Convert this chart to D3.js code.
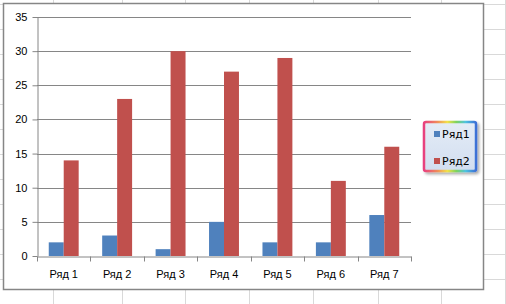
<!DOCTYPE html>
<html>
<head>
<meta charset="utf-8">
<script src="https://cdn.jsdelivr.net/npm/d3@7"></script>
<style>
  html, body { margin: 0; padding: 0; background: #fff; }
  svg { display: block; font-family: "DejaVu Sans", sans-serif; }
</style>
</head>
<body>
<div id="chart"></div>
<script>
// ---- data ----
const categories = ["Ряд 1", "Ряд 2", "Ряд 3", "Ряд 4", "Ряд 5", "Ряд 6", "Ряд 7"];
const seriesNames = ["Ряд1", "Ряд2"];
const series1 = [2, 3, 1, 5, 2, 2, 6];
const series2 = [14, 23, 30, 27, 29, 11, 16];
const yTicks = [0, 5, 10, 15, 20, 25, 30, 35];
const colors = ["#4f81bd", "#c0504d"];

// spreadsheet cell grid behind the chart
const sheetCols = [53, 122, 185, 249, 313, 378, 441, 505];
const sheetRows = [4, 29, 54, 79, 104, 129, 154, 179, 204, 229, 254, 279];

const W = 506, H = 304;
const svg = d3.select("#chart").append("svg")
    .attr("width", W).attr("height", H);

/* sheet grid */
const sheet = svg.append("g").attr("stroke", "#d9d9d9").attr("stroke-width", 1);
sheet.selectAll("line.c").data(sheetCols).join("line")
    .attr("x1", d => d + 0.5).attr("x2", d => d + 0.5)
    .attr("y1", 0).attr("y2", H);
sheet.selectAll("line.r").data(sheetRows).join("line")
    .attr("y1", d => d + 0.5).attr("y2", d => d + 0.5)
    .attr("x1", 0).attr("x2", W);

/* chart area */
svg.append("rect")
    .attr("x", 3.5).attr("y", 3.5)
    .attr("width", 480).attr("height", 286)
    .attr("fill", "#fff")
    .attr("stroke", "#868686").attr("stroke-width", 1.5);

/* plot */
const plot = {left: 37, right: 411, top: 17, bottom: 256};

const x = d3.scaleBand()
    .domain(categories)
    .range([plot.left, plot.right]);

const y = d3.scaleLinear()
    .domain([0, 35])
    .range([plot.bottom, plot.top]);

const barW = x.bandwidth() * 0.28;

// gridlines
svg.append("g")
    .selectAll("line").data(yTicks.filter(d => d > 0)).join("line")
    .attr("x1", plot.left).attr("x2", plot.right)
    .attr("y1", d => Math.round(y(d)) + 0.5).attr("y2", d => Math.round(y(d)) + 0.5)
    .attr("stroke", "#868686").attr("stroke-width", 1);

// bars
const all = [series1, series2];
all.forEach((vals, si) => {
    svg.append("g").selectAll("rect").data(vals).join("rect")
        .attr("x", (d, i) => x(categories[i]) + x.bandwidth() / 2 - barW + si * barW)
        .attr("y", d => y(d))
        .attr("width", barW)
        .attr("height", d => y(0) - y(d))
        .attr("fill", colors[si]);
});

// y axis
const yAxis = svg.append("g")
    .attr("transform", `translate(${plot.left + 0.5},0)`)
    .call(d3.axisLeft(y).tickValues(yTicks).tickSize(5).tickPadding(5).tickSizeOuter(0));
yAxis.select(".domain").attr("stroke", "#868686");
yAxis.selectAll(".tick line").attr("stroke", "#868686");
yAxis.selectAll("text").attr("fill", "#000").style("font-size", "11px");

// x axis
const xAxis = svg.append("g")
    .attr("transform", `translate(0,${plot.bottom + 0.5})`)
    .call(d3.axisBottom(x).tickSize(0).tickPadding(14));
xAxis.select(".domain").attr("stroke", "#868686");
xAxis.selectAll("text").attr("fill", "#000").style("font-size", "11px");
// boundary ticks between categories
xAxis.append("g").selectAll("line")
    .data(d3.range(categories.length + 1))
    .join("line")
    .attr("x1", i => Math.round(plot.left + i * x.step()) + 0.5)
    .attr("x2", i => Math.round(plot.left + i * x.step()) + 0.5)
    .attr("y1", 0).attr("y2", 5)
    .attr("stroke", "#868686");

/* legend */
const defs = svg.append("defs");
const rb = defs.append("linearGradient").attr("id", "rainbow")
    .attr("x1", "0%").attr("x2", "100%").attr("y1", "0%").attr("y2", "0%");
[["0%", "#e8407f"], ["25%", "#f08a5a"], ["45%", "#f2e24a"], ["62%", "#7ed35c"],
 ["80%", "#4fc3e0"], ["100%", "#3d6fd6"]].forEach(([o, c]) =>
    rb.append("stop").attr("offset", o).attr("stop-color", c));

const fillG = defs.append("linearGradient").attr("id", "legFill")
    .attr("x1", "0%").attr("x2", "0%").attr("y1", "0%").attr("y2", "100%");
fillG.append("stop").attr("offset", "0%").attr("stop-color", "#e4ecf6");
fillG.append("stop").attr("offset", "100%").attr("stop-color", "#d2def0");

const flt = defs.append("filter").attr("id", "shadow")
    .attr("x", "-20%").attr("y", "-20%").attr("width", "150%").attr("height", "150%");
flt.append("feGaussianBlur").attr("in", "SourceAlpha").attr("stdDeviation", 1.5);
flt.append("feOffset").attr("dx", 2).attr("dy", 2).attr("result", "b");
flt.append("feComponentTransfer").append("feFuncA").attr("type", "linear").attr("slope", 0.35);
const mrg = flt.append("feMerge");
mrg.append("feMergeNode");
mrg.append("feMergeNode").attr("in", "SourceGraphic");

const leg = svg.append("g").attr("transform", "translate(424,122)");
leg.append("rect")
    .attr("width", 52).attr("height", 49).attr("rx", 2)
    .attr("fill", "url(#legFill)")
    .attr("stroke", "url(#rainbow)").attr("stroke-width", 2.5)
    .attr("filter", "url(#shadow)");

const items = leg.selectAll("g.item").data(seriesNames).join("g")
    .attr("transform", (d, i) => `translate(10,${9 + i * 27})`);
items.append("rect")
    .attr("width", 6).attr("height", 6)
    .attr("fill", (d, i) => colors[i]);
items.append("text")
    .attr("x", 8).attr("y", 7)
    .style("font-size", "11px")
    .attr("fill", "#000")
    .text(d => d);
</script>
</body>
</html>
